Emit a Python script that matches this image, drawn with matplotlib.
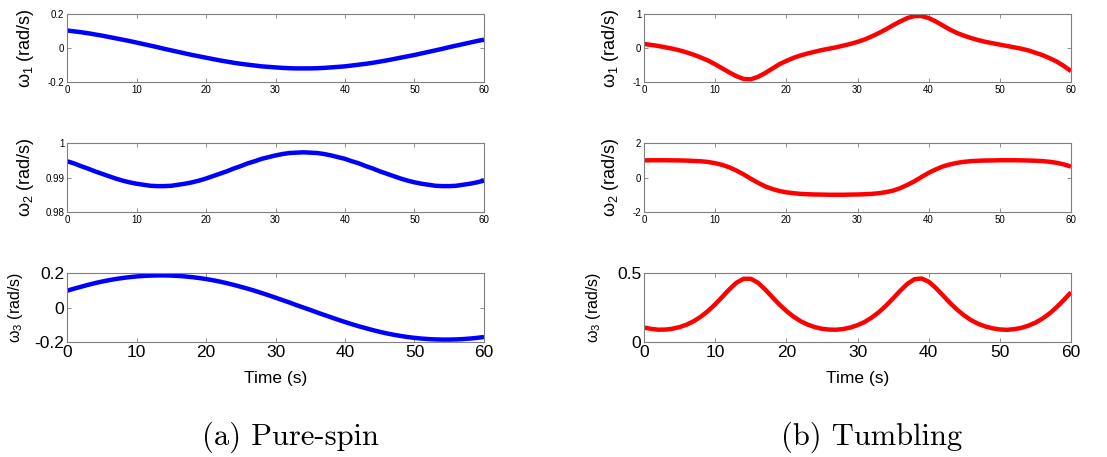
import numpy as np
import matplotlib
matplotlib.use("Agg")
import matplotlib.pyplot as plt

plt.rcParams["font.family"] = ["Liberation Sans", "DejaVu Sans"]
plt.rcParams["axes.unicode_minus"] = False

# time samples (s)
t = list(range(0, 61))

# pure-spin case
spin_w1 = [0.103, 0.098, 0.093, 0.087, 0.080, 0.073, 0.065, 0.057, 0.049, 0.041,
           0.032, 0.023, 0.014, 0.005, -0.005, -0.014, -0.023, -0.032, -0.041, -0.049,
           -0.057, -0.065, -0.073, -0.080, -0.087, -0.093, -0.098, -0.103, -0.108, -0.111,
           -0.114, -0.117, -0.119, -0.120, -0.120, -0.120, -0.119, -0.117, -0.114, -0.111,
           -0.108, -0.103, -0.098, -0.093, -0.087, -0.080, -0.073, -0.065, -0.057, -0.049,
           -0.041, -0.032, -0.023, -0.014, -0.005, 0.005, 0.014, 0.023, 0.032, 0.041,
           0.049]
spin_w2 = [0.9947, 0.9941, 0.9933, 0.9926, 0.9918, 0.9911, 0.9904, 0.9897, 0.9891, 0.9886,
           0.9882, 0.9879, 0.9876, 0.9875, 0.9875, 0.9876, 0.9879, 0.9882, 0.9886, 0.9891,
           0.9897, 0.9904, 0.9911, 0.9918, 0.9926, 0.9933, 0.9941, 0.9947, 0.9954, 0.9959,
           0.9964, 0.9968, 0.9971, 0.9972, 0.9973, 0.9972, 0.9971, 0.9968, 0.9964, 0.9959,
           0.9954, 0.9947, 0.9941, 0.9933, 0.9926, 0.9918, 0.9911, 0.9904, 0.9897, 0.9891,
           0.9886, 0.9882, 0.9879, 0.9876, 0.9875, 0.9875, 0.9876, 0.9879, 0.9882, 0.9886,
           0.9891]
spin_w3 = [0.097, 0.109, 0.120, 0.131, 0.141, 0.150, 0.158, 0.165, 0.171, 0.176,
           0.180, 0.183, 0.185, 0.186, 0.186, 0.185, 0.183, 0.180, 0.176, 0.171,
           0.165, 0.158, 0.150, 0.141, 0.131, 0.120, 0.109, 0.097, 0.084, 0.071,
           0.057, 0.043, 0.029, 0.014, 0.000, -0.014, -0.029, -0.043, -0.057, -0.071,
           -0.084, -0.097, -0.109, -0.120, -0.131, -0.141, -0.150, -0.158, -0.165, -0.171,
           -0.176, -0.180, -0.183, -0.185, -0.186, -0.186, -0.185, -0.183, -0.180, -0.176,
           -0.171]

# tumbling case
tumb_w1 = [0.12, 0.09, 0.06, 0.02, -0.02, -0.07, -0.13, -0.20, -0.28, -0.37,
           -0.48, -0.60, -0.72, -0.83, -0.91, -0.92, -0.85, -0.74, -0.61, -0.48,
           -0.38, -0.29, -0.22, -0.16, -0.11, -0.06, -0.02, 0.02, 0.07, 0.12,
           0.18, 0.25, 0.34, 0.44, 0.55, 0.67, 0.78, 0.88, 0.94, 0.94,
           0.88, 0.78, 0.66, 0.54, 0.44, 0.36, 0.29, 0.23, 0.18, 0.14,
           0.10, 0.06, 0.02, -0.02, -0.07, -0.14, -0.21, -0.30, -0.40, -0.53,
           -0.68]
tumb_w2 = [0.99, 1.0, 1.0, 1.0, 0.995, 0.99, 0.98, 0.96, 0.94, 0.90,
           0.83, 0.73, 0.59, 0.40, 0.18, -0.07, -0.30, -0.51, -0.66, -0.78,
           -0.86, -0.91, -0.95, -0.97, -0.985, -0.99, -1.0, -1.0, -1.0, -0.99,
           -0.985, -0.97, -0.95, -0.91, -0.85, -0.76, -0.62, -0.43, -0.22, 0.03,
           0.27, 0.47, 0.64, 0.76, 0.85, 0.91, 0.95, 0.97, 0.985, 0.99,
           1.0, 1.0, 1.0, 0.995, 0.985, 0.97, 0.95, 0.91, 0.85, 0.76,
           0.63]
tumb_w3 = [0.105, 0.095, 0.089, 0.090, 0.096, 0.108, 0.126, 0.151, 0.184, 0.225,
           0.273, 0.327, 0.382, 0.430, 0.458, 0.458, 0.430, 0.382, 0.327, 0.273,
           0.225, 0.184, 0.151, 0.126, 0.108, 0.096, 0.090, 0.089, 0.094, 0.105,
           0.122, 0.145, 0.177, 0.216, 0.263, 0.316, 0.371, 0.421, 0.455, 0.460,
           0.437, 0.392, 0.338, 0.283, 0.234, 0.192, 0.157, 0.131, 0.112, 0.099,
           0.091, 0.088, 0.093, 0.102, 0.118, 0.140, 0.170, 0.207, 0.253, 0.305,
           0.360]

spin_ylims = [(-0.2, 0.2), (0.98, 1.0), (-0.2, 0.2)]
spin_yticks = [[-0.2, 0, 0.2], [0.98, 0.99, 1], [-0.2, 0, 0.2]]
spin_ylabels = [["-0.2", "0", "0.2"], ["0.98", "0.99", "1"], ["-0.2", "0", "0.2"]]
tumb_ylims = [(-1, 1), (-2, 2), (0, 0.5)]
tumb_yticks = [[-1, 0, 1], [-2, 0, 2], [0, 0.5]]
tumb_ylabels = [["-1", "0", "1"], ["-2", "0", "2"], ["0", "0.5"]]
xticks = [0, 10, 20, 30, 40, 50, 60]

W, H = 1107, 457
fig = plt.figure(figsize=(W / 100, H / 100), dpi=100)

rows_px = [(14, 82), (143, 212), (273, 342)]
cols_px = [(67, 484), (644, 1071)]


def make_axes(col, row):
    x0, x1 = cols_px[col]
    y0, y1 = rows_px[row]
    return fig.add_axes([x0 / W, 1 - y1 / H, (x1 - x0) / W, (y1 - y0) / H])


def style_axes(ax, big):
    for s in ax.spines.values():
        s.set_color("#7f7f7f")
        s.set_linewidth(0.8)
    ax.tick_params(direction="in", top=True, right=True, length=3, width=0.6,
                   color="#7f7f7f", labelsize=12.5 if big else 7, pad=2)
    ax.set_xlim(0, 60)
    ax.set_xticks(xticks)
    ax.set_xticklabels([str(v) for v in xticks])


columns = [
    ([spin_w1, spin_w2, spin_w3], "blue", spin_ylims, spin_yticks, spin_ylabels,
     [-0.075, -0.075, -0.10]),
    ([tumb_w1, tumb_w2, tumb_w3], "red", tumb_ylims, tumb_yticks, tumb_ylabels,
     [-0.055, -0.055, -0.096]),
]

for c, (series, color, ylims, yticks, ylabels, lab_x) in enumerate(columns):
    for r in range(3):
        ax = make_axes(c, r)
        ax.plot(t, series[r], color=color, lw=3.2, solid_capstyle="butt")
        style_axes(ax, r == 2)
        ax.set_ylim(*ylims[r])
        ax.set_yticks(yticks[r])
        ax.set_yticklabels(ylabels[r])
        ax.set_ylabel(r"$\mathregular{\omega_%d}$ (rad/s)" % (r + 1),
                      fontsize=11.5 if r == 2 else 13)
        ax.yaxis.set_label_coords(lab_x[r], 0.5)
        if r == 2:
            ax.set_xlabel("Time (s)", fontsize=12.5, labelpad=8)

fig.text(290 / W, 1 - 437 / H, "(a) Pure-spin", family="cmr10", fontsize=22,
         ha="center", va="center")
fig.text(872 / W, 1 - 437 / H, "(b) Tumbling", family="cmr10", fontsize=22,
         ha="center", va="center")

fig.savefig("out.png", dpi=100)
